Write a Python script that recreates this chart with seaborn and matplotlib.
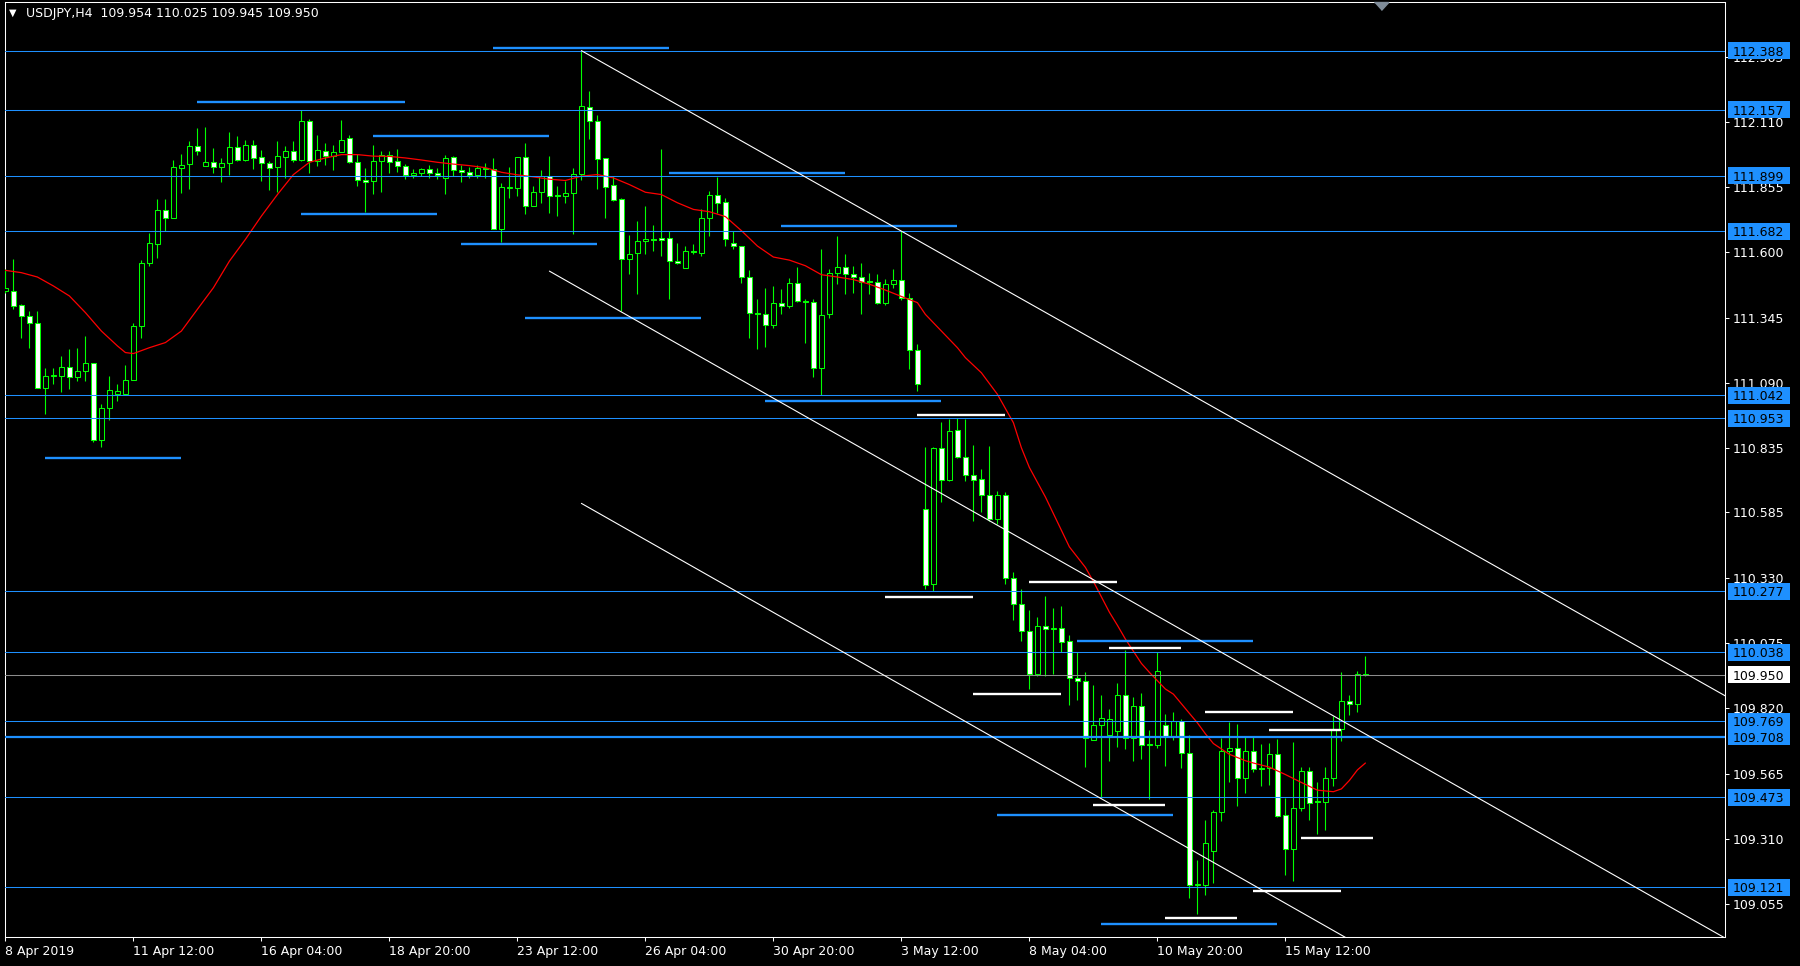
"""
USDJPY H4 terminal-style chart: candles, MA, horizontal levels, falling channel.
Renders to out.png (1800x966).
"""
import matplotlib
matplotlib.use("Agg")
import matplotlib.pyplot as plt
from matplotlib.patches import Rectangle
import numpy as np
import pandas as pd
import seaborn as sns

sns.set_theme(style="dark")
plt.rcParams["font.family"] = ["DejaVu Sans"]

GREEN = "#00FF00"
BLUE = "#1E90FF"
W, H = 1800, 966

# ---- candles (bar index = position in list) ----
opens = [
    111.449, 111.449, 111.395, 111.352, 111.323, 111.072, 111.118, 111.118, 111.154, 111.115,
    111.137, 111.167, 110.867, 110.991, 111.046, 111.046, 111.101, 111.313, 111.560, 111.631,
    111.764, 111.735, 111.928, 111.946, 112.017, 111.938, 111.955, 111.932, 111.951, 112.013,
    111.962, 112.021, 111.972, 111.951, 111.935, 111.973, 111.998, 111.962, 112.115, 111.956,
    111.998, 111.978, 111.991, 112.045, 111.954, 111.881, 111.878, 111.959, 111.982, 111.959,
    111.936, 111.904, 111.912, 111.924, 111.912, 111.891, 111.971, 111.919, 111.916, 111.904,
    111.928, 111.924, 111.692, 111.852, 111.852, 111.972, 111.783, 111.837, 111.898, 111.824,
    111.822, 111.834, 111.908, 112.167, 112.115, 111.967, 111.865, 111.807, 111.573, 111.599,
    111.644, 111.651, 111.655, 111.655, 111.566, 111.540, 111.605, 111.599, 111.733, 111.826,
    111.795, 111.635, 111.627, 111.504, 111.365, 111.361, 111.315, 111.402, 111.389, 111.482,
    111.410, 111.407, 111.147, 111.361, 111.521, 111.544, 111.514, 111.506, 111.486, 111.486,
    111.401, 111.478, 111.491, 111.423, 111.218, 110.597, 110.304, 110.837, 110.711, 110.905,
    110.801, 110.731, 110.715, 110.654, 110.559, 110.654, 110.327, 110.228, 110.121, 109.953,
    110.140, 110.130, 110.133, 110.084, 109.937, 109.926, 109.695, 109.753, 109.715, 109.732,
    109.872, 109.702, 109.828, 109.675, 109.675, 109.753, 109.711, 109.770, 109.647, 109.128,
    109.131, 109.264, 109.413, 109.651, 109.664, 109.548, 109.651, 109.588, 109.586, 109.640,
    109.402, 109.269, 109.430, 109.573, 109.456, 109.454, 109.548, 109.738, 109.847, 109.838,
    109.954,
]
highs = [
    111.534, 111.575, 111.397, 111.371, 111.371, 111.150, 111.150, 111.196, 111.222, 111.228,
    111.274, 111.170, 111.007, 111.118, 111.085, 111.160, 111.326, 111.569, 111.677, 111.807,
    111.807, 111.962, 111.984, 112.034, 112.086, 112.089, 112.006, 111.969, 112.069, 112.056,
    112.041, 112.041, 111.999, 111.956, 112.034, 112.015, 112.034, 112.158, 112.123, 112.060,
    112.028, 112.021, 112.116, 112.060, 111.985, 111.930, 112.019, 111.995, 111.995, 112.002,
    111.946, 111.924, 111.930, 111.941, 111.930, 111.982, 111.976, 111.943, 111.934, 111.943,
    111.950, 111.969, 111.872, 111.933, 111.972, 112.027, 111.859, 111.920, 111.976, 111.859,
    111.878, 111.930, 112.388, 112.229, 112.138, 111.969, 111.898, 111.813, 111.670, 111.722,
    111.781, 111.709, 112.002, 111.683, 111.638, 111.625, 111.631, 111.768, 111.839, 111.894,
    111.811, 111.683, 111.627, 111.530, 111.419, 111.462, 111.469, 111.456, 111.499, 111.543,
    111.417, 111.417, 111.612, 111.534, 111.664, 111.592, 111.547, 111.560, 111.521, 111.517,
    111.495, 111.536, 111.683, 111.443, 111.241, 110.840, 110.840, 110.939, 110.948, 110.955,
    110.950, 110.848, 110.756, 110.844, 110.667, 110.663, 110.352, 110.284, 110.205, 110.178,
    110.259, 110.212, 110.219, 110.106, 110.038, 109.960, 109.910, 109.872, 109.817, 109.919,
    110.046, 109.865, 109.879, 109.736, 110.039, 109.797, 109.804, 109.779, 109.715, 109.226,
    109.382, 109.423, 109.702, 109.766, 109.759, 109.709, 109.706, 109.681, 109.684, 109.698,
    109.470, 109.688, 109.590, 109.589, 109.532, 109.589, 109.790, 109.963, 109.872, 109.967,
    110.025,
]
lows = [
    111.440, 111.378, 111.267, 111.228, 111.072, 110.968, 111.085, 111.053, 111.066, 111.098,
    111.098, 110.860, 110.840, 110.945, 111.020, 111.046, 111.101, 111.264, 111.547, 111.577,
    111.683, 111.733, 111.833, 111.848, 111.982, 111.937, 111.911, 111.876, 111.902, 111.959,
    111.959, 111.924, 111.878, 111.843, 111.837, 111.891, 111.954, 111.956, 111.911, 111.937,
    111.943, 111.920, 111.991, 111.950, 111.859, 111.759, 111.829, 111.835, 111.911, 111.913,
    111.885, 111.891, 111.898, 111.891, 111.887, 111.829, 111.898, 111.874, 111.891, 111.891,
    111.891, 111.690, 111.642, 111.813, 111.820, 111.751, 111.781, 111.794, 111.755, 111.742,
    111.794, 111.673, 111.881, 112.043, 111.846, 111.735, 111.799, 111.371, 111.514, 111.436,
    111.592, 111.605, 111.586, 111.419, 111.553, 111.540, 111.592, 111.586, 111.664, 111.755,
    111.625, 111.612, 111.482, 111.267, 111.224, 111.232, 111.306, 111.358, 111.384, 111.407,
    111.248, 111.115, 111.042, 111.343, 111.475, 111.439, 111.443, 111.361, 111.436, 111.400,
    111.395, 111.462, 111.413, 111.144, 111.059, 110.286, 110.277, 110.627, 110.708, 110.797,
    110.708, 110.552, 110.586, 110.552, 110.538, 110.304, 110.164, 110.083, 109.896, 109.947,
    109.947, 109.953, 110.038, 109.831, 109.854, 109.589, 109.695, 109.470, 109.613, 109.670,
    109.661, 109.613, 109.620, 109.466, 109.665, 109.593, 109.695, 109.586, 109.080, 109.015,
    109.090, 109.137, 109.379, 109.532, 109.437, 109.488, 109.570, 109.515, 109.520, 109.396,
    109.167, 109.144, 109.420, 109.382, 109.328, 109.345, 109.518, 109.691, 109.793, 109.806,
    109.945,
]
closes = [
    111.460, 111.391, 111.352, 111.323, 111.072, 111.118, 111.120, 111.154, 111.114, 111.137,
    111.167, 110.867, 110.994, 111.062, 111.059, 111.101, 111.313, 111.560, 111.635, 111.764,
    111.735, 111.933, 111.943, 112.017, 111.998, 111.955, 111.932, 111.951, 112.013, 111.962,
    112.021, 111.969, 111.950, 111.930, 111.975, 111.998, 111.962, 112.115, 111.956, 112.000,
    111.978, 111.991, 112.041, 111.954, 111.881, 111.876, 111.959, 111.982, 111.955, 111.937,
    111.904, 111.912, 111.925, 111.912, 111.904, 111.968, 111.920, 111.916, 111.904, 111.928,
    111.924, 111.692, 111.857, 111.857, 111.972, 111.783, 111.837, 111.898, 111.822, 111.822,
    111.834, 111.908, 112.173, 112.115, 111.963, 111.857, 111.805, 111.573, 111.592, 111.644,
    111.651, 111.648, 111.647, 111.566, 111.560, 111.605, 111.601, 111.733, 111.826, 111.794,
    111.651, 111.627, 111.504, 111.365, 111.361, 111.315, 111.404, 111.389, 111.482, 111.410,
    111.408, 111.147, 111.354, 111.521, 111.544, 111.514, 111.506, 111.486, 111.484, 111.401,
    111.478, 111.491, 111.423, 111.218, 111.088, 110.300, 110.837, 110.711, 110.901, 110.801,
    110.731, 110.711, 110.654, 110.559, 110.654, 110.327, 110.228, 110.121, 109.953, 110.140,
    110.130, 110.133, 110.078, 109.937, 109.926, 109.702, 109.753, 109.781, 109.776, 109.872,
    109.702, 109.828, 109.675, 109.677, 109.964, 109.711, 109.770, 109.647, 109.128, 109.135,
    109.294, 109.413, 109.651, 109.664, 109.548, 109.651, 109.582, 109.584, 109.640, 109.400,
    109.269, 109.430, 109.573, 109.450, 109.452, 109.548, 109.738, 109.847, 109.838, 109.954,
    109.950,
]

# ---- moving average ----
ma_bars = [0, 2, 4, 6, 8, 10, 12, 14, 15, 16, 18, 20, 22, 24, 26, 28, 30, 32, 34, 36,
           38, 40, 42, 44, 46, 48, 50, 52, 54, 56, 58, 60, 62, 64, 66, 68, 70, 72, 74, 76,
           78, 80, 82, 84, 86, 88, 90, 92, 94, 96, 98, 100, 102, 104, 106, 108, 110, 112, 114, 115,
           117, 119, 120, 122, 124, 126, 127, 128, 130, 131, 133, 135, 136, 138, 139, 140, 142, 143, 145, 146,
           148, 149, 150, 151, 152, 153, 155, 156, 158, 160, 162, 164, 166, 167, 168, 169, 170]
ma_values = [111.530, 111.521, 111.504, 111.469, 111.430, 111.365, 111.293, 111.235, 111.209, 111.205,
             111.228, 111.248, 111.293, 111.378, 111.462, 111.566, 111.651, 111.742, 111.826, 111.904,
             111.952, 111.969, 111.982, 111.982, 111.976, 111.975, 111.969, 111.961, 111.952, 111.945,
             111.939, 111.931, 111.913, 111.903, 111.895, 111.886, 111.881, 111.898, 111.904, 111.891,
             111.865, 111.835, 111.826, 111.794, 111.768, 111.759, 111.740, 111.685, 111.625, 111.582,
             111.570, 111.548, 111.513, 111.504, 111.494, 111.476, 111.453, 111.428, 111.404, 111.358,
             111.293, 111.228, 111.189, 111.130, 111.046, 110.935, 110.837, 110.760, 110.645, 110.580,
             110.450, 110.370, 110.315, 110.195, 110.144, 110.090, 109.995, 109.960, 109.895, 109.875,
             109.800, 109.763, 109.720, 109.682, 109.661, 109.640, 109.615, 109.606, 109.590, 109.561,
             109.530, 109.500, 109.494, 109.505, 109.538, 109.579, 109.606]

# ---- horizontal levels (labelled on the price scale) ----
level_prices = [112.388, 112.157, 111.899, 111.682, 111.042, 110.953,
                110.277, 110.038, 109.769, 109.708, 109.473, 109.121]
bold_level = 109.708
current_price = 109.950

# ---- short support/resistance segments ----
blue_seg_start = [61, 24, 46, 37, 57, 5, 65, 83, 97, 95, 124, 134, 137]
blue_seg_end = [83, 50, 68, 54, 74, 22, 87, 105, 119, 117, 146, 156, 159]
blue_seg_price = [112.397, 112.188, 112.054, 111.751, 111.633, 110.799, 111.345,
                  111.909, 111.703, 111.020, 109.404, 110.084, 108.978]
white_seg_start = [114, 110, 128, 121, 138, 136, 145, 150, 158, 162, 156]
white_seg_end = [125, 121, 139, 132, 147, 145, 154, 161, 167, 171, 167]
white_seg_price = [110.965, 110.255, 110.311, 109.876, 110.055, 109.443,
                   109.000, 109.804, 109.734, 109.314, 109.107]

# ---- falling channel lines (start bar/price, end bar/price) ----
chan_x0 = [72, 68, 72]
chan_p0 = [112.388, 111.527, 110.620]
chan_x1 = [215, 216, 175]
chan_p1 = [109.868, 108.904, 108.792]

# ---- axes scales ----
y_ticks = [112.365, 112.110, 111.855, 111.600, 111.345, 111.090, 110.835,
           110.585, 110.330, 110.075, 109.820, 109.565, 109.310, 109.055]
x_tick_bars = [0, 16, 32, 48, 64, 80, 96, 112, 128, 144, 160]
x_tick_labels = ["8 Apr 2019", "11 Apr 12:00", "16 Apr 04:00", "18 Apr 20:00",
                 "23 Apr 12:00", "26 Apr 04:00", "30 Apr 20:00", "3 May 12:00",
                 "8 May 04:00", "10 May 20:00", "15 May 12:00"]
symbol = "USDJPY,H4"

df = pd.DataFrame({"open": opens, "high": highs, "low": lows, "close": closes})
df["bar"] = np.arange(len(df))
df["bear"] = df["close"] < df["open"]

fig = plt.figure(figsize=(W / 100, H / 100), dpi=100, facecolor="black")
ax_left, ax_right, ax_top, ax_bottom = 4.6, 1725.0, 2.0, 937.4
ax = fig.add_axes([ax_left / W, (H - ax_bottom) / H,
                   (ax_right - ax_left) / W, (ax_bottom - ax_top) / H])
ax.set_facecolor("black")
ax.grid(False)

# candles
ax.vlines(df["bar"], df["low"], df["high"], color=GREEN, lw=0.8, zorder=3)
body_lo = df[["open", "close"]].min(axis=1)
body_h = (df["close"] - df["open"]).abs().clip(lower=0.004)
ax.bar(df["bar"], body_h, bottom=body_lo, width=0.56,
       color=np.where(df["bear"], "white", "black"),
       edgecolor=GREEN, linewidth=0.75, zorder=4)

# moving average
sns.lineplot(x=ma_bars, y=ma_values, ax=ax, color="#FF0000", lw=0.9, zorder=5)

# horizontal levels
for p in level_prices:
    ax.axhline(p, color=BLUE, lw=1.6 if p == bold_level else 0.75, zorder=5)
ax.axhline(current_price, color="#8C8C8C", lw=0.75, zorder=5)

# short segments
ax.hlines(blue_seg_price, blue_seg_start, blue_seg_end, color=BLUE, lw=1.7, zorder=6)
ax.hlines(white_seg_price, white_seg_start, white_seg_end, color="white", lw=1.7, zorder=6)

# channel
for x0, p0, x1, p1 in zip(chan_x0, chan_p0, chan_x1, chan_p1):
    ax.plot([x0, x1], [p0, p1], color="white", lw=0.8, zorder=6)

ax.set_xlim(-0.1, 214.95)
ax.set_ylim(108.925, 112.578)
ax.set_xlabel("")
ax.set_ylabel("")

# price scale on the right
ax.yaxis.tick_right()
ax.set_yticks(y_ticks)
ax.set_yticklabels([f"{v:.3f}" for v in y_ticks])
ax.tick_params(axis="y", colors="white", labelcolor="white", length=3, width=0.75,
               pad=2.7, labelsize=9, right=True, left=False, labelright=True,
               labelleft=False, direction="out")
ax.set_xticks(x_tick_bars)
ax.set_xticklabels(x_tick_labels)
for lbl in ax.get_xticklabels():
    lbl.set_horizontalalignment("left")
ax.tick_params(axis="x", colors="white", labelcolor="white", length=3, width=0.75,
               pad=2.6, labelsize=9, bottom=True, direction="out")
for s in ax.spines.values():
    s.set_visible(True)
    s.set_color("white")
    s.set_linewidth(0.75)

# level tags on the price scale
px_w = ax_right - ax_left
trans = ax.get_yaxis_transform()
box_x0 = (1727.5 - ax_left) / px_w - 1.0 + 1.0
box_w = 62.5 / px_w
half_h = 8.5 / 256.0
text_x = (1733 - ax_left) / px_w


def tag(price, face):
    ax.add_patch(Rectangle((box_x0, price - half_h), box_w, 2 * half_h,
                           transform=trans, facecolor=face, edgecolor="none",
                           clip_on=False, zorder=10))
    ax.text(text_x, price, f"{price:.3f}", transform=trans, color="black",
            fontsize=9, ha="left", va="center_baseline", clip_on=False, zorder=11)


for p in level_prices:
    tag(p, BLUE)
tag(current_price, "white")

# header and shift marker
fig.text(8.5 / W, 1 - 13 / H, "\u25BC", color="white", fontsize=7, va="center", ha="left")
fig.text(26 / W, 1 - 13.3 / H,
         f"{symbol}  {opens[-1]:.3f} {highs[-1]:.3f} {lows[-1]:.3f} {closes[-1]:.3f}",
         color="white", fontsize=9, va="center", ha="left")
ax.plot([172], [112.562], marker=[(-1, 0.55), (1, 0.55), (0, -0.55)], ms=10.4,
        color="#7F8C99", clip_on=False, zorder=12)

fig.savefig("out.png", dpi=100, facecolor="black")
plt.close(fig)
